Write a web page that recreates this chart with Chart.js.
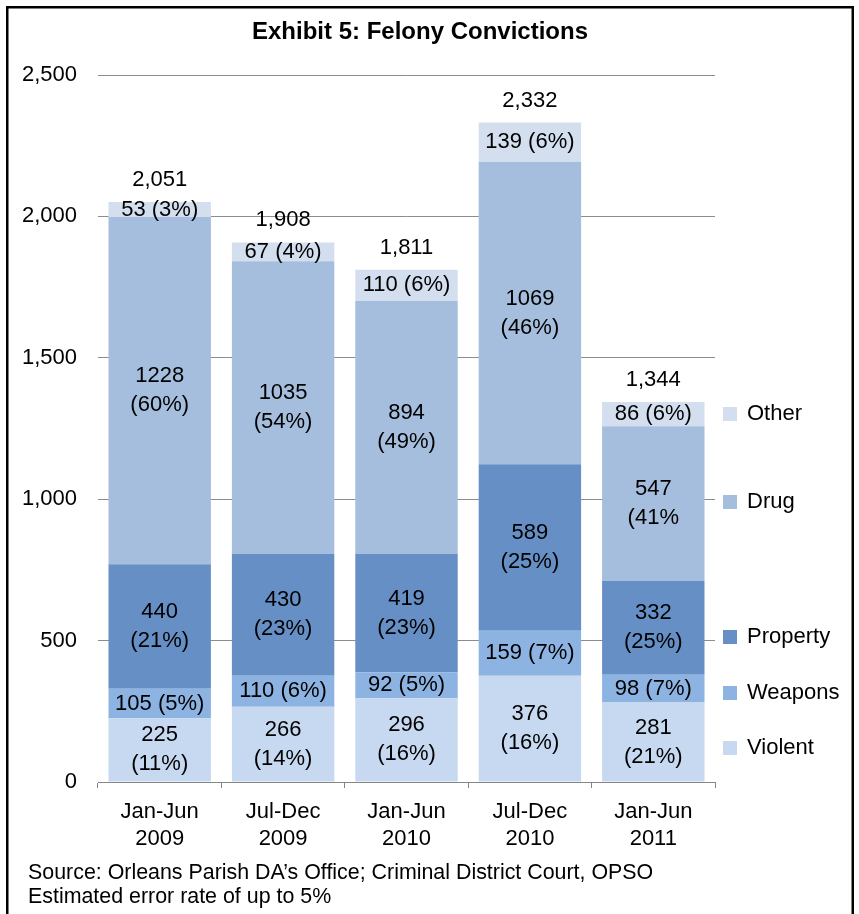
<!DOCTYPE html>
<html><head><meta charset="utf-8">
<script src="https://cdn.jsdelivr.net/npm/chart.js@4/dist/chart.umd.min.js"></script>
<style>html,body{margin:0;padding:0;background:#fff;}#wrap{width:859px;height:914px;position:relative;}</style>
</head><body><div id="wrap"><canvas id="c" width="859" height="914"></canvas></div>
<script>
// ---- data ----
const categories = [["Jan-Jun","2009"],["Jul-Dec","2009"],["Jan-Jun","2010"],["Jul-Dec","2010"],["Jan-Jun","2011"]];
const violent  = [225, 266, 296, 376, 281];
const weapons  = [105, 110, 92, 159, 98];
const property = [440, 430, 419, 589, 332];
const drug     = [1228, 1035, 894, 1069, 547];
const other    = [53, 67, 110, 139, 86];
const violentPct  = ["(11%)","(14%)","(16%)","(16%)","(21%)"];
const weaponsPct  = ["(5%)","(6%)","(5%)","(7%)","(7%)"];
const propertyPct = ["(21%)","(23%)","(23%)","(25%)","(25%)"];
const drugPct     = ["(60%)","(54%)","(49%)","(46%)","(41%"];
const otherPct    = ["(3%)","(4%)","(6%)","(6%)","(6%)"];
const totals = ["2,051","1,908","1,811","2,332","1,344"];
const yMax = 2500, yStep = 500;
const titleText = "Exhibit 5: Felony Convictions";
const sourceLines = ["Source: Orleans Parish DA\u2019s Office; Criminal District Court, OPSO","Estimated error rate of up to 5%"];

const FONT = "'Liberation Sans', Arial, sans-serif";
const FS = 22;

const datasets = [
  {label:"Violent",  data:violent,  pct:violentPct,  oneLine:false, backgroundColor:"#c6d9f0"},
  {label:"Weapons",  data:weapons,  pct:weaponsPct,  oneLine:true,  backgroundColor:"#8db3e2"},
  {label:"Property", data:property, pct:propertyPct, oneLine:false, backgroundColor:"#6690c5"},
  {label:"Drug",     data:drug,     pct:drugPct,     oneLine:false, backgroundColor:"#a5bedd"},
  {label:"Other",    data:other,    pct:otherPct,    oneLine:true,  backgroundColor:"#d3dfee"}
].map(d => Object.assign(d, {borderWidth:0, barPercentage:0.83, categoryPercentage:1.0}));

const legendY = {Other:414, Drug:502, Property:637, Weapons:693, Violent:748};

const decor = {
  id:'decor',
  afterDatasetsDraw(chart){
    const ctx = chart.ctx;
    ctx.save();
    ctx.fillStyle = '#000';
    ctx.font = FS + 'px ' + FONT;
    ctx.textAlign = 'center';
    ctx.textBaseline = 'middle';
    chart.data.datasets.forEach((ds, i) => {
      const meta = chart.getDatasetMeta(i);
      meta.data.forEach((el, j) => {
        const yc = (el.y + el.base) / 2;
        if (ds.oneLine) {
          ctx.fillText(ds.data[j] + ' (' + ds.pct[j].slice(1), el.x, yc);
        } else {
          ctx.fillText(String(ds.data[j]), el.x, yc - 14.5);
          ctx.fillText(ds.pct[j], el.x, yc + 14.5);
        }
      });
    });
    const topMeta = chart.getDatasetMeta(chart.data.datasets.length - 1);
    topMeta.data.forEach((el, j) => {
      ctx.fillText(totals[j], el.x, el.y - 22);
    });
    // legend
    ctx.textAlign = 'left';
    chart.data.datasets.forEach(ds => {
      const y = legendY[ds.label];
      ctx.fillStyle = ds.backgroundColor;
      ctx.fillRect(723, y - 7, 14, 14);
      ctx.fillStyle = '#000';
      ctx.fillText(ds.label, 747, y);
    });
    // title
    ctx.font = 'bold 24px ' + FONT;
    ctx.textAlign = 'center';
    ctx.fillText(titleText, 420, 32);
    // source
    ctx.font = '21.4px ' + FONT;
    ctx.textAlign = 'left';
    ctx.fillText(sourceLines[0], 28, 873);
    ctx.fillText(sourceLines[1], 28, 897);
    // border
    ctx.strokeStyle = '#000';
    ctx.lineWidth = 2.5;
    ctx.strokeRect(7.25, 7.25, 845.5, 940);
    ctx.restore();
  }
};

new Chart(document.getElementById('c'), {
  type:'bar',
  data:{labels:categories, datasets:datasets},
  options:{
    responsive:false, animation:false, devicePixelRatio:1,
    layout:{padding:{left:10, top:75, right:144, bottom:62}},
    plugins:{legend:{display:false}, title:{display:false}, tooltip:{enabled:false}},
    scales:{
      x:{
        stacked:true,
        afterFit(s){ s.height = 70; },
        grid:{display:true, drawOnChartArea:false, drawTicks:true, tickLength:6, color:'#868686', offset:true},
        border:{display:true, color:'#868686', width:1},
        ticks:{color:'#000', font:{family:FONT, size:FS, lineHeight:1.2}, padding:11, maxRotation:0}
      },
      y:{
        stacked:true, min:0, max:yMax,
        afterFit(s){ s.width = 88; },
        grid:{color:'#8c8c8c', lineWidth:1, drawTicks:false},
        border:{display:false},
        ticks:{stepSize:yStep, color:'#000', font:{family:FONT, size:FS}, padding:21}
      }
    }
  },
  plugins:[decor]
});
</script></body></html>
